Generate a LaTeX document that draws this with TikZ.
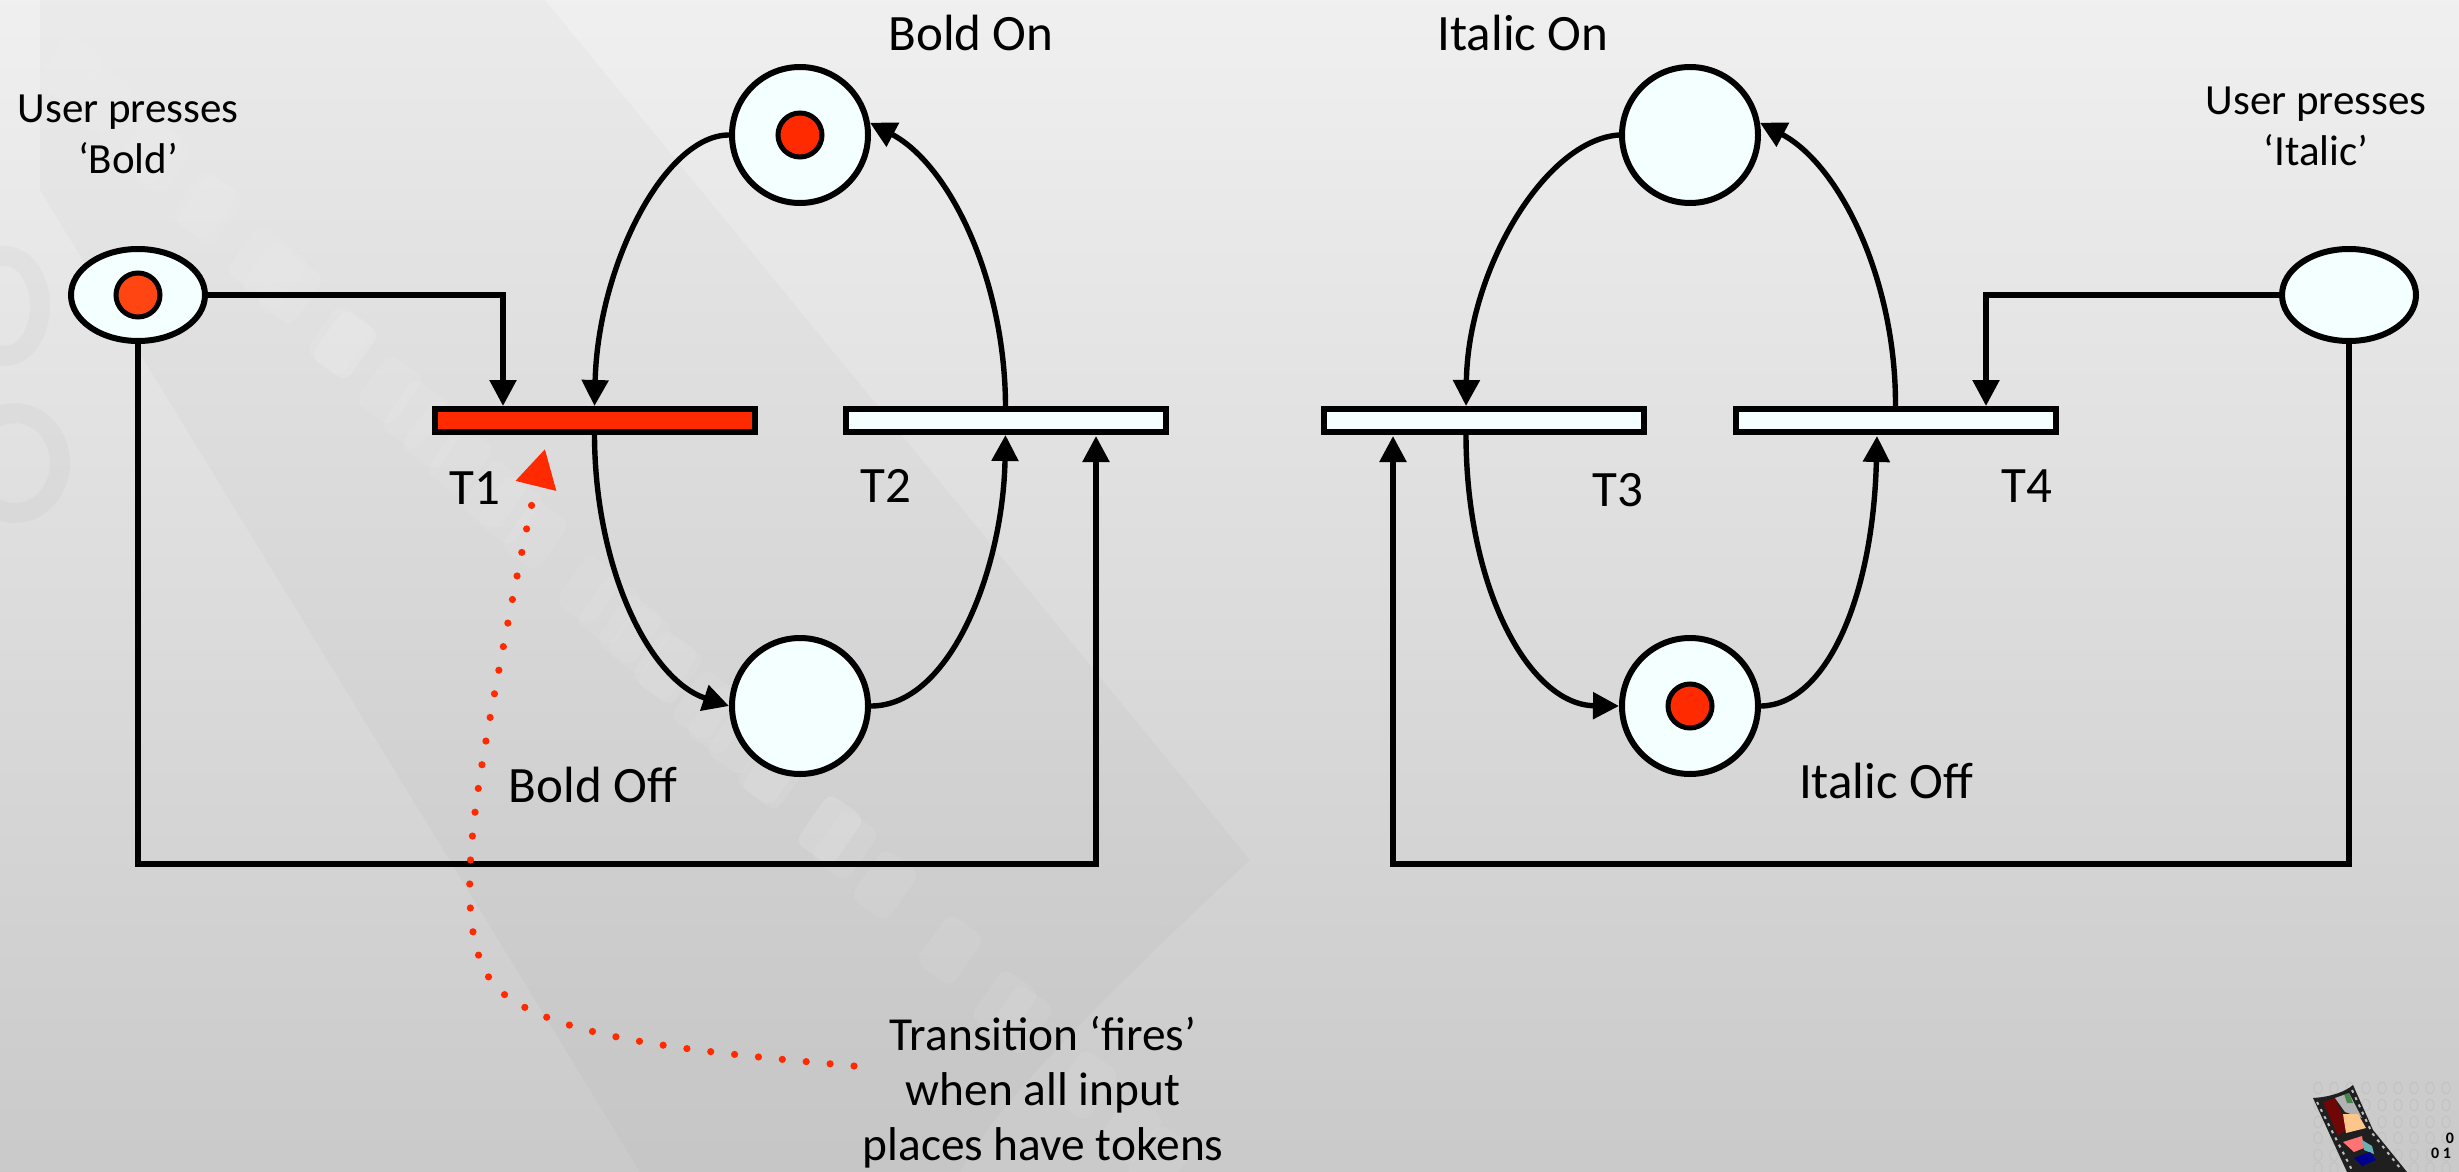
\documentclass[tikz,border=0pt]{standalone}
\usepackage{fontspec}
\setmainfont{Carlito}
\usetikzlibrary{arrows.meta,shapes.geometric}
\definecolor{placefill}{HTML}{F4FFFF}
\definecolor{tokred}{HTML}{FF2A00}
\definecolor{tokorange}{HTML}{FF4512}
\tikzset{
  place/.style={circle,draw=black,line width=3pt,fill=placefill,minimum size=68pt,inner sep=0pt},
  userplace/.style={ellipse,draw=black,line width=3pt,fill=placefill,minimum width=67pt,minimum height=46pt,inner sep=0pt},
  token/.style={circle,draw=black,line width=2.5pt,fill=tokred,minimum size=22pt,inner sep=0pt},
  trans/.style={rectangle,draw=black,line width=3pt,fill=placefill,minimum width=160pt,minimum height=11.5pt,inner sep=0pt},
  firing/.style={trans,fill=tokred},
  conn/.style={line width=2.7pt,draw=black,-{Triangle[length=13pt,width=13pt]}},
  plainlabel/.style={inner sep=0pt,align=center,font=\fontsize{25.5}{27.5}\selectfont},
  noteLabel/.style={inner sep=0pt,align=center,font=\fontsize{23.7}{27.5}\selectfont},
  userlabel/.style={inner sep=0pt,align=center,font=\fontsize{21.5}{25.5}\selectfont},
  dotted red/.style={line width=3.6pt,draw=tokred,line cap=round,dash pattern=on 0pt off 12pt,-{Triangle[length=19pt,width=20pt,fill=tokred]}},
  film/.style={fill=black,fill opacity=.018,draw=none},
  filmhole/.style={fill=white,fill opacity=.07,draw=none,rounded corners=5pt},
  logodigit/.style={inner sep=0pt,font=\fontsize{8}{8}\selectfont\bfseries},
}
\begin{document}
\begin{tikzpicture}[x=0.5pt,y=-0.5pt]
\useasboundingbox (0,0) rectangle (2459,1172);
\clip (0,0) rectangle (2459,1172);
% backdrop
\shade[top color=black!6,bottom color=black!21] (0,0) rectangle (2459,1172);
\fill[film] (40,0) -- (545,0) -- (1250,860) -- (870,1172) -- (640,1172) -- (40,190) -- cycle;
\fill[film] (1250,860) .. controls (1100,1000) and (1000,1100) .. (960,1172) -- (870,1172) -- cycle;
\foreach \hx/\hy in {610,70, 665,130, 720,205, 775,275, 830,345, 885,415, 950,495, 1020,590, 1085,670, 1160,770, 1220,845, 100,160, 150,260, 210,340, 290,460, 345,535, 390,630, 435,705, 510,830, 640,1005, 740,1130}
  \fill[filmhole,rotate around={-35:(\hx,\hy)}] (\hx-22,\hy-30) rectangle (\hx+22,\hy+30);
\draw[black,opacity=.022,line width=10pt] (5,306) ellipse (35 and 50);
\draw[black,opacity=.022,line width=10pt] (15,463) ellipse (45 and 50);
% logo
\foreach \ry in {1088,1105,1122,1138,1155,1168}
  \foreach \rx in {2318,2334,...,2456}
    \draw[black!24,line width=.5pt] (\rx,\ry) ellipse (4 and 6);
\fill[black!88] (2313,1098) .. controls (2330,1097) and (2345,1092) .. (2353,1085) -- (2373,1130) -- (2407,1172) -- (2347,1172) -- cycle;
\fill[black!45!red,opacity=.75] (2323,1102) -- (2335,1098) -- (2348,1128) -- (2338,1136) -- cycle;
\fill[white!70!black] (2335,1098) -- (2349,1093) -- (2362,1118) -- (2345,1112) -- cycle;
\fill[green!40!black,opacity=.6] (2344,1094) -- (2349,1093) -- (2353,1103) -- (2347,1103) -- cycle;
\fill[orange!45!white] (2343,1114) -- (2358,1114) -- (2366,1128) -- (2346,1133) -- cycle;
\fill[red!55!white] (2343,1142) -- (2362,1136) -- (2364,1148) -- (2354,1152) -- cycle;
\fill[teal!60!white] (2362,1140) -- (2372,1146) -- (2374,1154) -- (2364,1150) -- cycle;
\fill[blue!55!black] (2354,1158) -- (2370,1152) -- (2376,1160) -- (2362,1166) -- cycle;
\draw[white!75!black,line width=1pt,dash pattern=on 1.5pt off 2.5pt] (2317,1102) -- (2352,1170);
\draw[white!75!black,line width=1pt,dash pattern=on 1.5pt off 2.5pt] (2352,1090) -- (2372,1133) -- (2400,1168);
\node[logodigit] (logoa) at (2450,1138) {0};
\node[logodigit] (logob) at (2441,1153) {0 1};
% places
\node[place] (bon) at (800,135) {};
\node[place] (boff) at (800,706) {};
\node[place] (ion) at (1690,135) {};
\node[place] (ioff) at (1690,706) {};
\node[userplace] (ub) at (138,295) {};
\node[userplace] (ui) at (2349,295) {};
\node[token] (tokbon) at (800,135) {};
\node[token] (tokioff) at (1690,706) {};
\node[token,fill=tokorange] (tokub) at (138,295) {};
% transitions
\node[firing] (t1) at (594.5,420.5) {};
\node[trans] (t2) at (1005.5,420.5) {};
\node[trans] (t3) at (1484,420.5) {};
\node[trans] (t4) at (1895.5,420.5) {};
% free ends on the bars
\coordinate (t1user) at (503,406);
\coordinate (t2user) at (1096,436);
\coordinate (t3top) at (1466,406);
\coordinate (t3bot) at (1466,434);
\coordinate (t3user) at (1393,436);
\coordinate (t4user) at (1986,406);
\coordinate (t4bot) at (1877,436);
\coordinate (ubbot) at (138,864);
\coordinate (uibot) at (2349,864);
% labels
\node[plainlabel] (lbon) at (971,33) {Bold On};
\node[plainlabel] (lion) at (1523,33) {Italic On};
\node[userlabel] (lub) at (128,134) {User presses\\‘Bold’};
\node[userlabel] (lui) at (2316,126) {User presses\\‘Italic’};
\node[plainlabel] (lt1) at (475,488) {T1};
\node[plainlabel] (lt2) at (886,486) {T2};
\node[plainlabel] (lt3) at (1618,490) {T3};
\node[plainlabel] (lt4) at (2027,486) {T4};
\node[plainlabel] (lboff) at (593,785) {Bold Off};
\node[plainlabel] (lioff) at (1886,781) {Italic Off};
\node[noteLabel] (fires) at (1043,1092) {Transition ‘fires’\\when all input\\places have tokens};
\coordinate (firestart) at (854,1066);
\coordinate (firetip) at (545,449);
% connectors
\draw[conn] (ub.east) -| (t1user);
\draw[conn] (ub.south) -- (ubbot) -- (ubbot -| t2user) -- (t2user);
\draw[conn] (bon.west) .. controls (665,135) and (598,265) .. (t1.north);
\draw[conn] (t2.north) .. controls (1005,280) and (950,165) .. (bon.10);
\draw[conn] (t1.south) .. controls (595,570) and (650,680) .. (boff.west);
\draw[conn] (boff.east) .. controls (950,706) and (1003,570) .. (t2.south);
\draw[conn] (ui.west) -| (t4user);
\draw[conn] (ui.south) -- (uibot) -- (uibot -| t3user) -- (t3user);
\draw[conn] (ion.west) .. controls (1545,140) and (1468,270) .. (t3top);
\draw[conn] (t4.north) .. controls (1896,280) and (1840,165) .. (ion.10);
\draw[conn] (t3bot) .. controls (1466,590) and (1530,705) .. (ioff.west);
\draw[conn] (ioff.east) .. controls (1825,705) and (1873,600) .. (t4bot);
% firing hint
\draw[dotted red] (firestart) .. controls (700,1052) and (565,1040) .. (505,995)
  .. controls (445,950) and (475,800) .. (497,680) .. controls (512,600) and (530,510) .. (firetip);
\end{tikzpicture}
\end{document}
